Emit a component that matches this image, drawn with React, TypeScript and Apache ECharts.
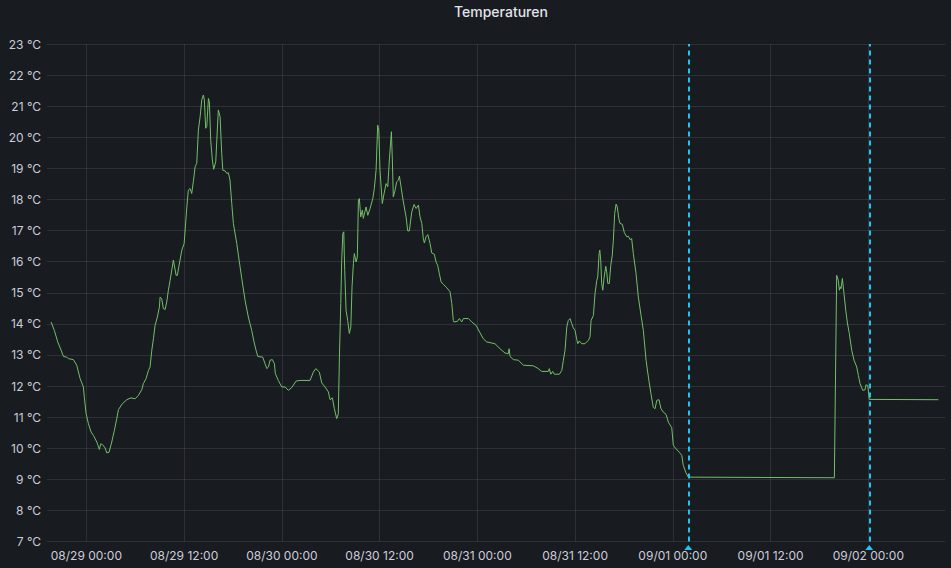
import React, { useEffect, useRef } from "react";
import * as echarts from "echarts";

// Minutes since 08/29 00:00
const minutes = [
  -260, -236, -211, -186, -169, -144, -133, -96, -71, -46, -22, -15, -2, 15, 35, 52, 77, 96, 106, 118,
  138, 150, 167, 187, 206, 224, 236, 265, 298, 329, 359, 383, 408, 420, 440, 457, 469, 482, 494, 506,
  523, 538, 543, 555, 567, 580, 592, 604, 617, 641, 661, 670, 690, 703, 720, 740, 751, 764, 776, 788,
  801, 813, 825, 838, 850, 862, 869, 879, 887, 899, 906, 916, 928, 938, 953, 972, 985, 997, 1005, 1022,
  1034, 1046, 1058, 1071, 1083, 1108, 1125, 1145, 1169, 1193, 1218, 1235, 1250, 1263, 1299, 1316, 1329, 1341, 1353, 1370,
  1385, 1392, 1414, 1439, 1464, 1488, 1513, 1545, 1574, 1648, 1672, 1690, 1716, 1734, 1758, 1783, 1795, 1812, 1827, 1844,
  1856, 1864, 1874, 1881, 1889, 1896, 1903, 1913, 1925, 1937, 1948, 1957, 1967, 1974, 1987, 1996, 2004, 2011, 2021, 2033,
  2040, 2060, 2073, 2090, 2110, 2121, 2134, 2146, 2154, 2163, 2180, 2193, 2208, 2220, 2232, 2247, 2254, 2261, 2274, 2286,
  2298, 2306, 2316, 2335, 2355, 2367, 2379, 2397, 2414, 2429, 2446, 2458, 2471, 2482, 2490, 2502, 2515, 2532, 2544, 2563,
  2576, 2588, 2600, 2613, 2630, 2655, 2679, 2692, 2703, 2708, 2733, 2748, 2765, 2777, 2814, 2839, 2871, 2900, 2924, 2949,
  3010, 3047, 3084, 3108, 3114, 3121, 3145, 3182, 3219, 3293, 3329, 3354, 3403, 3410, 3421, 3435, 3447, 3484, 3502, 3514,
  3526, 3539, 3550, 3563, 3575, 3587, 3600, 3612, 3620, 3631, 3649, 3673, 3698, 3710, 3718, 3735, 3747, 3760, 3767, 3777,
  3782, 3789, 3796, 3804, 3813, 3826, 3833, 3841, 3852, 3863, 3874, 3882, 3892, 3902, 3911, 3922, 3931, 3948, 3963, 3981,
  3992, 4005, 4017, 4029, 4049, 4066, 4086, 4103, 4123, 4140, 4159, 4176, 4189, 4202, 4218, 4233, 4250, 4270, 4287, 4312,
  4324, 4344, 4368, 4386, 4397, 4415, 4434, 5510, 5527, 5539, 5547, 5554, 5559, 5569, 5581, 5594, 5605, 5620, 5638, 5655,
  5675, 5687, 5699, 5719, 5736, 5743, 5756, 5767, 6276,
];

const temperatures = [
  14.06, 13.79, 13.42, 13.15, 12.95, 12.93, 12.88, 12.85, 12.67, 12.24, 11.97, 11.64, 11.11, 10.79, 10.52, 10.41, 10.2, 9.96, 10.14, 10.12,
  10.01, 9.85, 9.87, 10.2, 10.57, 10.95, 11.24, 11.43, 11.56, 11.62, 11.59, 11.7, 11.88, 12.08, 12.24, 12.5, 12.61, 13.15, 13.52, 13.95,
  14.22, 14.54, 14.86, 14.81, 14.49, 14.46, 14.7, 15.08, 15.4, 16.05, 15.56, 15.56, 16.05, 16.37, 16.58, 17.76, 18.3, 18.35, 18.19, 18.57,
  19.05, 19.16, 20.23, 20.66, 21.2, 21.36, 21.2, 20.29, 20.34, 21.25, 21.14, 19.91, 19.27, 18.97, 19.21, 20.88, 20.66, 19.48, 18.94, 18.92,
  18.84, 18.86, 18.62, 17.87, 17.23, 16.58, 16.05, 15.45, 14.76, 14.22, 13.79, 13.42, 13.15, 12.95, 12.93, 12.72, 12.56, 12.61, 12.83, 12.85,
  12.72, 12.4, 12.18, 11.97, 11.97, 11.86, 11.95, 12.16, 12.18, 12.18, 12.45, 12.56, 12.45, 12.1, 11.97, 11.81, 11.56, 11.62, 11.27, 10.95,
  11.11, 12.93, 14.65, 16.05, 16.91, 16.96, 15.72, 14.44, 14.11, 13.69, 13.9, 15.19, 15.94, 16.26, 15.99, 16.15, 17.98, 18.03, 17.44, 17.66,
  17.39, 17.76, 17.49, 17.71, 18.03, 18.35, 18.94, 20.39, 20.23, 18.94, 17.87, 18.19, 18.51, 18.41, 19.27, 20.18, 19.27, 18.08, 18.3, 18.57,
  18.62, 18.75, 18.46, 17.92, 17.44, 16.99, 16.99, 17.6, 17.84, 17.71, 17.82, 17.44, 17.23, 16.74, 16.6, 16.8, 16.87, 16.58, 16.28, 16.24,
  15.99, 15.88, 15.62, 15.35, 15.27, 15.16, 15.03, 14.65, 14.11, 14.06, 14.08, 14.17, 14.06, 14.17, 14.17, 14.06, 13.95, 13.71, 13.52, 13.42,
  13.36, 13.2, 13.06, 13.04, 13.2, 12.95, 12.85, 12.83, 12.67, 12.65, 12.56, 12.47, 12.47, 12.56, 12.38, 12.47, 12.38, 12.38, 12.5, 12.83,
  13.15, 13.9, 14.11, 14.17, 14.01, 13.87, 13.79, 13.5, 13.36, 13.45, 13.36, 13.36, 13.47, 13.58, 14.11, 14.27, 14.97, 15.4, 15.51, 16.26,
  16.37, 16.05, 15.3, 15.08, 15.46, 15.85, 15.67, 15.3, 15.3, 15.88, 16.21, 16.69, 17.55, 17.85, 17.76, 17.39, 17.23, 17.2, 16.93, 16.8,
  16.82, 16.71, 16.74, 16.26, 15.62, 14.86, 14.27, 13.79, 12.83, 12.29, 11.75, 11.32, 11.27, 11.54, 11.56, 11.27, 11.16, 11.09, 10.84, 10.66,
  10.09, 9.98, 9.87, 9.77, 9.45, 9.23, 9.07, 9.05, 15.56, 15.4, 15.08, 15.19, 15.13, 15.46, 14.97, 14.44, 14.06, 13.69, 13.15, 12.83,
  12.61, 12.34, 12.08, 11.86, 11.88, 12.04, 12.02, 11.57, 11.56,
];

// Annotation times (minutes since 08/29 00:00)
const annotations = [4434, 5767];

// Axis window (minutes since 08/29 00:00)
const rangeStart = -290;
const rangeEnd = 6325;

const dayLabels = ["08/28", "08/29", "08/30", "08/31", "09/01", "09/02", "09/03"];

const HALF_DAY = 720;

function labelFor(halfDays: number): string {
  const idx = Math.round(halfDays);
  const day = dayLabels[Math.floor(idx / 2) + 1];
  const time = idx % 2 === 0 ? "00:00" : "12:00";
  return `${day} ${time}`;
}

export default function App() {
  const ref = useRef<HTMLDivElement>(null);

  useEffect(() => {
    if (!ref.current) return;
    const chart = echarts.init(ref.current, null, { renderer: "svg" });
    const data = minutes.map((m, i) => [m / HALF_DAY, temperatures[i]]);
    const annColor = "#1fc5f0";
    chart.setOption({
      animation: false,
      backgroundColor: "#181b1f",
      textStyle: { fontFamily: "Inter, Roboto, sans-serif" },
      title: {
        text: "Temperaturen",
        left: 454,
        top: 4,
        padding: 0,
        textStyle: { color: "#e2e3ea", fontSize: 14, fontWeight: 500, fontFamily: "Inter, Roboto, sans-serif" },
      },
      grid: { left: 47, right: 6, top: 44, bottom: 26.5, containLabel: false },
      xAxis: {
        type: "value",
        min: rangeStart / HALF_DAY,
        max: rangeEnd / HALF_DAY,
        minInterval: 1,
        maxInterval: 1,
        axisLine: { show: false },
        axisTick: { show: false },
        axisLabel: {
          color: "#ccccdc",
          fontSize: 12,
          margin: 8,
          showMinLabel: false,
          showMaxLabel: false,
          formatter: (v: number) => (Math.abs(v - Math.round(v)) < 1e-6 ? labelFor(v) : ""),
        },
        splitLine: {
          show: true,
          showMinLine: false,
          showMaxLine: false,
          lineStyle: { color: "rgba(204,204,220,0.12)", width: 1 },
        },
      },
      yAxis: {
        type: "value",
        min: 7,
        max: 23,
        interval: 1,
        axisLine: { show: false },
        axisTick: { show: false },
        axisLabel: { color: "#ccccdc", fontSize: 12, margin: 6, formatter: "{value} °C" },
        splitLine: { lineStyle: { color: "rgba(204,204,220,0.12)", width: 1 } },
      },
      series: [
        {
          type: "line",
          data,
          showSymbol: false,
          symbol: "none",
          lineStyle: { color: "#73bf69", width: 1 },
          itemStyle: { color: "#73bf69" },
          markLine: {
            silent: true,
            symbol: ["none", "none"],
            label: { show: false },
            lineStyle: { color: annColor, width: 2, type: [5, 4], opacity: 1 },
            data: annotations.map((a) => ({ xAxis: a / HALF_DAY })),
          },
          markPoint: {
            silent: true,
            symbol: "triangle",
            symbolSize: [8, 5],
            symbolOffset: [0, 6],
            label: { show: false },
            itemStyle: { color: annColor },
            data: annotations.map((a) => ({ coord: [a / HALF_DAY, 7] })),
          },
        },
      ],
    });
    return () => chart.dispose();
  }, []);

  return (
    <div
      ref={ref}
      style={{ position: "fixed", left: 0, top: 0, width: 951, height: 568 }}
    />
  );
}
